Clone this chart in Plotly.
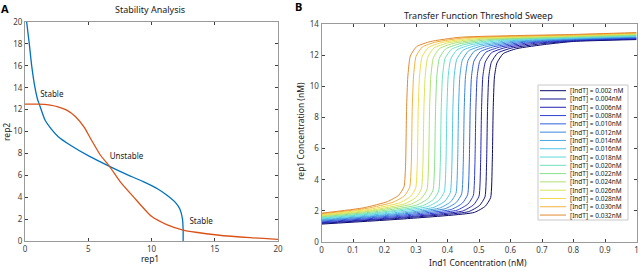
import plotly.graph_objects as go

# ---------------- Panel A: Stability Analysis ----------------
BLUE_X = [0.13, 0.34, 0.53, 0.79, 1.0, 1.13, 1.58, 2.1, 2.63, 3.56, 5.14, 6.72, 7.9, 9.35, 10.5, 11.2, 11.9, 12.25, 12.45, 12.5, 12.5]
BLUE_Y = [20, 18, 16, 14, 12.9, 12.5, 11.05, 10.2, 9.53, 8.77, 7.7, 6.79, 6.15, 5.42, 4.75, 4.2, 3.5, 2.9, 2.0, 1.0, 0]

ORANGE_X = [0, 1.0, 1.5, 2.0, 2.6, 3.3, 4.0, 4.7, 5.14, 5.93, 6.72, 7.5, 8.56, 10.0, 11.2, 12.5, 13.5, 15.2, 17.8, 20]
ORANGE_Y = [12.5, 12.5, 12.48, 12.4, 12.25, 11.95, 11.35, 10.35, 9.45, 7.9, 6.75, 5.45, 4.05, 2.25, 1.5, 1.0, 0.8, 0.55, 0.3, 0.15]

LABELS_A = ["Stable", "Unstable", "Stable"]
LABELS_A_X = [1.2, 6.7, 13.0]
LABELS_A_Y = [13.3, 7.7, 1.7]

# ---------------- Panel B: Transfer Function Threshold Sweep ----------------
LEGEND_LABELS = ["[IndT] = 0.002 nM", "[IndT] = 0.004nM", "[IndT] = 0.006nM", "[IndT] = 0.008nM",
                 "[IndT] = 0.010nM", "[IndT] = 0.012nM", "[IndT] = 0.014nM", "[IndT] = 0.016nM",
                 "[IndT] = 0.018nM", "[IndT] = 0.020nM", "[IndT] = 0.022nM", "[IndT] = 0.024nM",
                 "[IndT] = 0.026nM", "[IndT] = 0.028nM", "[IndT] = 0.030nM", "[IndT] = 0.032nM"]

SWEEP_X = [
    [0, 0.273, 0.485, 0.520, 0.537, 0.542, 0.545, 0.549, 0.557, 0.577, 0.620, 0.715, 0.8, 1.0],
    [0, 0.263, 0.467, 0.502, 0.519, 0.524, 0.527, 0.531, 0.539, 0.559, 0.602, 0.697, 0.8, 1.0],
    [0, 0.254, 0.448, 0.483, 0.500, 0.505, 0.508, 0.512, 0.520, 0.540, 0.583, 0.678, 0.8, 1.0],
    [0, 0.245, 0.430, 0.465, 0.482, 0.487, 0.490, 0.494, 0.502, 0.522, 0.565, 0.660, 0.8, 1.0],
    [0, 0.236, 0.412, 0.447, 0.464, 0.469, 0.472, 0.476, 0.484, 0.504, 0.547, 0.642, 0.8, 1.0],
    [0, 0.227, 0.393, 0.428, 0.445, 0.450, 0.453, 0.457, 0.465, 0.485, 0.528, 0.623, 0.8, 1.0],
    [0, 0.218, 0.375, 0.410, 0.427, 0.432, 0.435, 0.439, 0.447, 0.467, 0.510, 0.605, 0.8, 1.0],
    [0, 0.209, 0.357, 0.392, 0.409, 0.414, 0.417, 0.421, 0.429, 0.449, 0.492, 0.587, 0.8, 1.0],
    [0, 0.199, 0.338, 0.373, 0.390, 0.395, 0.398, 0.402, 0.410, 0.430, 0.473, 0.568, 0.8, 1.0],
    [0, 0.190, 0.320, 0.355, 0.372, 0.377, 0.380, 0.384, 0.392, 0.412, 0.455, 0.550, 0.8, 1.0],
    [0, 0.181, 0.302, 0.337, 0.354, 0.359, 0.362, 0.366, 0.374, 0.394, 0.437, 0.532, 0.8, 1.0],
    [0, 0.172, 0.283, 0.318, 0.335, 0.340, 0.343, 0.347, 0.355, 0.375, 0.418, 0.513, 0.8, 1.0],
    [0, 0.163, 0.265, 0.300, 0.317, 0.322, 0.325, 0.329, 0.337, 0.357, 0.400, 0.495, 0.8, 1.0],
    [0, 0.154, 0.247, 0.282, 0.299, 0.304, 0.307, 0.311, 0.319, 0.339, 0.382, 0.477, 0.8, 1.0],
    [0, 0.144, 0.228, 0.263, 0.280, 0.285, 0.288, 0.292, 0.300, 0.320, 0.363, 0.458, 0.8, 1.0],
    [0, 0.135, 0.210, 0.245, 0.262, 0.267, 0.270, 0.274, 0.282, 0.302, 0.345, 0.440, 0.8, 1.0],
]
SWEEP_Y = [
    [1.15, 1.50, 1.90, 2.30, 2.85, 5.0, 8.5, 10.6, 11.50, 12.10, 12.42, 12.70, 12.88, 13.00],
    [1.20, 1.55, 1.95, 2.35, 2.90, 5.0, 8.5, 10.6, 11.53, 12.13, 12.45, 12.73, 12.91, 13.03],
    [1.24, 1.59, 1.99, 2.39, 2.94, 5.0, 8.5, 10.6, 11.56, 12.16, 12.48, 12.76, 12.94, 13.06],
    [1.29, 1.64, 2.04, 2.44, 2.99, 5.0, 8.5, 10.6, 11.59, 12.19, 12.51, 12.79, 12.97, 13.09],
    [1.34, 1.69, 2.09, 2.49, 3.04, 5.0, 8.5, 10.6, 11.62, 12.22, 12.54, 12.82, 13.00, 13.12],
    [1.39, 1.74, 2.14, 2.54, 3.09, 5.0, 8.5, 10.6, 11.65, 12.25, 12.57, 12.85, 13.03, 13.15],
    [1.43, 1.78, 2.18, 2.58, 3.13, 5.0, 8.5, 10.6, 11.68, 12.28, 12.60, 12.88, 13.06, 13.18],
    [1.48, 1.83, 2.23, 2.63, 3.18, 5.0, 8.5, 10.6, 11.71, 12.31, 12.63, 12.91, 13.09, 13.21],
    [1.53, 1.88, 2.28, 2.68, 3.23, 5.0, 8.5, 10.6, 11.74, 12.34, 12.66, 12.94, 13.12, 13.24],
    [1.57, 1.92, 2.32, 2.72, 3.27, 5.0, 8.5, 10.6, 11.77, 12.37, 12.69, 12.97, 13.15, 13.27],
    [1.62, 1.97, 2.37, 2.77, 3.32, 5.0, 8.5, 10.6, 11.80, 12.40, 12.72, 13.00, 13.18, 13.30],
    [1.67, 2.02, 2.42, 2.82, 3.37, 5.0, 8.5, 10.6, 11.83, 12.43, 12.75, 13.03, 13.21, 13.33],
    [1.71, 2.06, 2.46, 2.86, 3.41, 5.0, 8.5, 10.6, 11.86, 12.46, 12.78, 13.06, 13.24, 13.36],
    [1.76, 2.11, 2.51, 2.91, 3.46, 5.0, 8.5, 10.6, 11.89, 12.49, 12.81, 13.09, 13.27, 13.39],
    [1.81, 2.16, 2.56, 2.96, 3.51, 5.0, 8.5, 10.6, 11.92, 12.52, 12.84, 13.12, 13.30, 13.42],
    [1.85, 2.20, 2.60, 3.00, 3.55, 5.0, 8.5, 10.6, 11.95, 12.55, 12.87, 13.15, 13.33, 13.45],
]
SWEEP_COLORS = ["#0b0b6b", "#14148a", "#2323b0", "#2e3fd0", "#2f62d8", "#3a86dc", "#46a6e0", "#52c4e4",
                "#5fd8dc", "#6fe0b8", "#8ae08a", "#b0e070", "#d6e45a", "#f0dc4a", "#f0b040", "#e08a30"]

FONT = "Noto Sans"
W, H = 640, 270

fig = go.Figure()

fig.add_trace(go.Scatter(x=BLUE_X, y=BLUE_Y, mode="lines", xaxis="x", yaxis="y",
                         line=dict(color="#0072BD", width=1.3, shape="spline", smoothing=0.6),
                         showlegend=False, hoverinfo="skip"))
fig.add_trace(go.Scatter(x=ORANGE_X, y=ORANGE_Y, mode="lines", xaxis="x", yaxis="y",
                         line=dict(color="#D95319", width=1.3, shape="spline", smoothing=0.6),
                         showlegend=False, hoverinfo="skip"))
fig.add_trace(go.Scatter(x=LABELS_A_X, y=LABELS_A_Y, text=LABELS_A, mode="text", xaxis="x", yaxis="y",
                         textposition="middle right", textfont=dict(family=FONT, size=8, color="#202020"),
                         showlegend=False, hoverinfo="skip"))

for xs, ys, c, name in zip(SWEEP_X, SWEEP_Y, SWEEP_COLORS, LEGEND_LABELS):
    fig.add_trace(go.Scatter(x=xs, y=ys, mode="lines", name=name, xaxis="x2", yaxis="y2",
                             line=dict(color=c, width=1, shape="spline", smoothing=0.5),
                             showlegend=False, hoverinfo="skip"))

axis_common = dict(ticks="inside", ticklen=3, tickwidth=1, tickcolor="#404040",
                   showline=True, linecolor="#9a9a9a", linewidth=1, mirror="ticks",
                   showgrid=False, zeroline=False, automargin=False,
                   tickfont=dict(family=FONT, size=8, color="#404040"))

fig.update_layout(
    width=W, height=H, margin=dict(l=0, r=0, t=0, b=0),
    paper_bgcolor="white", plot_bgcolor="white",
    xaxis=dict(domain=[25 / W, 278 / W], range=[0, 20], tickvals=[0, 5, 10, 15, 20], anchor="y", **axis_common),
    yaxis=dict(domain=[1 - 241 / H, 1 - 22 / H], range=[0, 20], dtick=2, anchor="x", **axis_common),
    xaxis2=dict(domain=[321.5 / W, 636.5 / W], range=[0, 1], dtick=0.1, anchor="y2", **axis_common),
    yaxis2=dict(domain=[1 - 242 / H, 1 - 24 / H], range=[0, 14], dtick=2, anchor="x2", **axis_common),
)

ann = []
def txt(x, y, s, size=8, bold=False, angle=0, xanchor="center", color="#202020"):
    ann.append(dict(x=x / W, y=1 - y / H, xref="paper", yref="paper", text=("<b>%s</b>" % s) if bold else s,
                    showarrow=False, xanchor=xanchor, yanchor="middle", textangle=angle,
                    font=dict(family=FONT, size=size, color=color)))

txt(5, 8, "A", size=11, bold=True, color="black")
txt(298, 7, "B", size=11, bold=True, color="black")
txt(150, 10, "Stability Analysis", size=9)
txt(478, 15, "Transfer Function Threshold Sweep", size=9)
txt(150, 258, "rep1", size=8.5)
txt(6, 132, "rep2", size=8.5, angle=-90)
txt(478, 262, "Ind1 Concentration (nM)", size=8.5)
txt(300, 131, "rep1 Concentration (nM)", size=8.5, angle=-90)

# manual legend (inside panel B)
shapes = [dict(type="rect", xref="paper", yref="paper", x0=538 / W, x1=628 / W, y0=1 - 220 / H, y1=1 - 85 / H,
               line=dict(color="#c8c8c8", width=1), fillcolor="white", layer="above")]
for i, (name, c) in enumerate(zip(LEGEND_LABELS, SWEEP_COLORS)):
    yy = 90.7 + 8.29 * i
    shapes.append(dict(type="line", xref="paper", yref="paper", x0=540 / W, x1=566 / W,
                       y0=1 - yy / H, y1=1 - yy / H, line=dict(color=c, width=1), layer="above"))
    txt(568, yy, name, size=6.5, xanchor="left")

fig.update_layout(annotations=ann, shapes=shapes)
fig.write_html("out.html", config={"displayModeBar": False},
               post_script="document.body.style.margin='0px';document.body.style.overflow='hidden';")
